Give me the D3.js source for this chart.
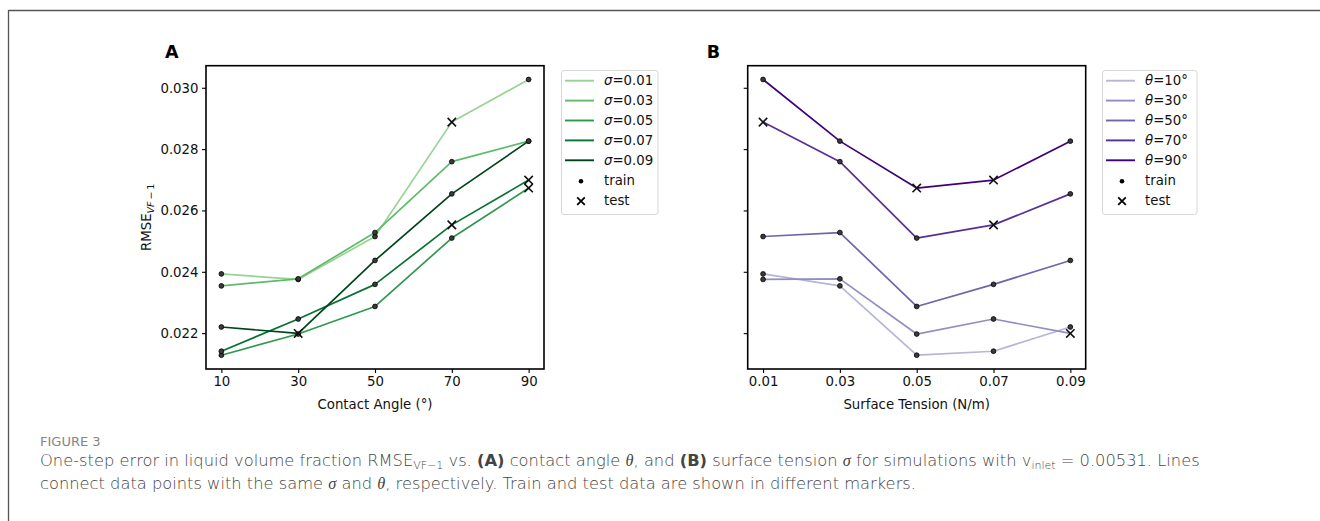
<!DOCTYPE html>
<html><head><meta charset="utf-8">
<script src="https://cdn.jsdelivr.net/npm/d3@7"></script>
<style>
html,body{margin:0;padding:0;background:#fff;}
svg text{font-family:"DejaVu Sans",sans-serif;}
</style></head>
<body>
<svg id="fig" width="1320" height="521"></svg>
<script>
// ---- data ----
const thetas = [10, 30, 50, 70, 90];
const sigmas = [0.01, 0.03, 0.05, 0.07, 0.09];
// RMSE values: rows = sigma, cols = theta
const sigma001 = [0.02393, 0.02375, 0.02515, 0.02888, 0.03027];
const sigma003 = [0.02354, 0.02377, 0.02528, 0.02759, 0.02826];
const sigma005 = [0.02128, 0.02197, 0.02287, 0.02510, 0.02673];
const sigma007 = [0.02141, 0.02246, 0.02359, 0.02553, 0.02699];
const sigma009 = [0.02220, 0.02199, 0.02437, 0.02654, 0.02826];
// test flags (1 = test, 0 = train), same layout
const test001 = [0, 0, 0, 1, 0];
const test003 = [0, 0, 0, 0, 0];
const test005 = [0, 0, 0, 0, 1];
const test007 = [0, 0, 0, 1, 1];
const test009 = [0, 1, 0, 0, 0];
const yTicks = [0.022, 0.024, 0.026, 0.028, 0.030];
const sigmaLabels = ["0.01", "0.03", "0.05", "0.07", "0.09"];
const thetaLabels = ["10", "30", "50", "70", "90"];

const M = [sigma001, sigma003, sigma005, sigma007, sigma009];
const T = [test001, test003, test005, test007, test009];

const greens = [0.4, 0.55, 0.7, 0.85, 1.0].map(t => d3.interpolateGreens(t));
const purples = [0.4, 0.55, 0.7, 0.85, 1.0].map(t => d3.interpolatePurples(t));

const FS = 13.3;
const svg = d3.select("#fig");

// figure frame
svg.append("line").attr("x1", 8.5).attr("x2", 1320).attr("y1", 10.5).attr("y2", 10.5).attr("stroke", "#555").attr("stroke-width", 1.3);
svg.append("line").attr("x1", 8.5).attr("x2", 8.5).attr("y1", 10).attr("y2", 521).attr("stroke", "#555").attr("stroke-width", 1.3);

// shared y
const allVals = M.flat();
const ymin = d3.min(allVals), ymax = d3.max(allVals), ypad = (ymax - ymin) * 0.05;
const plotTop = 65.7, plotBottom = 369;
const y = d3.scaleLinear().domain([ymin - ypad, ymax + ypad]).range([plotBottom, plotTop]);

function panel(opts) {
  const {left, right, xvals, xlabels, xlabel, letter, series, tests, colors, legendLabels, legendX, legendPrefix, legendSuffix, showYLabels} = opts;
  const span = xvals[xvals.length - 1] - xvals[0];
  const x = d3.scaleLinear().domain([xvals[0] - span * 0.05, xvals[xvals.length - 1] + span * 0.05]).range([left, right]);
  const g = svg.append("g");

  // lines
  const line = d3.line().x((d, i) => x(xvals[i])).y(d => y(d));
  series.forEach((s, k) => {
    g.append("path").datum(s).attr("d", line).attr("fill", "none")
      .attr("stroke", colors[k]).attr("stroke-width", 1.7).attr("stroke-linejoin", "round");
  });
  // markers
  series.forEach((s, k) => {
    s.forEach((v, i) => {
      const cx = x(xvals[i]), cy = y(v);
      if (tests[k][i]) {
        const r = 4.2;
        g.append("path").attr("d", `M${cx - r},${cy - r}L${cx + r},${cy + r}M${cx - r},${cy + r}L${cx + r},${cy - r}`)
          .attr("stroke", "#111").attr("stroke-width", 1.6).attr("fill", "none");
      } else {
        g.append("circle").attr("cx", cx).attr("cy", cy).attr("r", 2.4)
          .attr("fill", "#3a3a3a").attr("stroke", "#000").attr("stroke-width", 0.8);
      }
    });
  });

  // axes
  const xAxis = d3.axisBottom(x).tickValues(xvals).tickFormat((d, i) => xlabels[i]).tickSize(4).tickPadding(3.5);
  const gx = g.append("g").attr("transform", `translate(0,${plotBottom})`).call(xAxis);
  gx.select(".domain").remove();
  gx.selectAll("line").attr("stroke", "#000").attr("stroke-width", 1.1);
  gx.selectAll("text").attr("font-size", FS).attr("fill", "#111").attr("font-family", "DejaVu Sans");

  const yAxis = d3.axisLeft(y).tickValues(yTicks).tickFormat(showYLabels ? d3.format(".3f") : () => "").tickSize(4).tickPadding(3.5);
  const gy = g.append("g").attr("transform", `translate(${left},0)`).call(yAxis);
  gy.select(".domain").remove();
  gy.selectAll("line").attr("stroke", "#000").attr("stroke-width", 1.1);
  gy.selectAll("text").attr("font-size", FS).attr("fill", "#111").attr("font-family", "DejaVu Sans");

  g.append("rect").attr("x", left).attr("y", plotTop).attr("width", right - left).attr("height", plotBottom - plotTop)
    .attr("fill", "none").attr("stroke", "#000").attr("stroke-width", 1.6);

  g.append("text").attr("x", (left + right) / 2).attr("y", 408.5).attr("text-anchor", "middle")
    .attr("font-size", FS).attr("fill", "#111").text(xlabel);

  g.append("text").attr("x", left - 41).attr("y", 58).attr("font-size", 17.5).attr("font-weight", "bold").attr("fill", "#000").text(letter);

  // legend
  const lx = legendX, ly = 70, lw = opts.legendW, lh = 144;
  const lg = g.append("g");
  lg.append("rect").attr("x", lx + 0.5).attr("y", ly + 0.5).attr("width", lw).attr("height", lh).attr("rx", 2.5)
    .attr("fill", "#fff").attr("stroke", "#d6d6d6").attr("stroke-width", 1);
  legendLabels.forEach((lab, k) => {
    const ry = 80.7 + 19.9 * k;
    lg.append("line").attr("x1", lx + 4).attr("x2", lx + 33).attr("y1", ry).attr("y2", ry)
      .attr("stroke", colors[k]).attr("stroke-width", 1.9);
    const t = lg.append("text").attr("x", lx + 43).attr("y", ry + 4.7).attr("font-size", FS).attr("fill", "#111");
    t.append("tspan").attr("font-style", "italic").attr("font-family", "DejaVu Sans").text(legendPrefix);
    t.append("tspan").text("=" + lab + legendSuffix);
  });
  const mx = lx + 20;
  const ty = 80.7 + 19.9 * 5, ey = 80.7 + 19.9 * 6;
  lg.append("circle").attr("cx", mx).attr("cy", ty + 1).attr("r", 2.3).attr("fill", "#000");
  lg.append("text").attr("x", lx + 43).attr("y", ty + 4.7).attr("font-size", FS).attr("fill", "#111").text("train");
  const r = 3.8;
  lg.append("path").attr("d", `M${mx - r},${ey + 1 - r}L${mx + r},${ey + 1 + r}M${mx - r},${ey + 1 + r}L${mx + r},${ey + 1 - r}`)
    .attr("stroke", "#000").attr("stroke-width", 1.8);
  lg.append("text").attr("x", lx + 43).attr("y", ey + 4.7).attr("font-size", FS).attr("fill", "#111").text("test");
}

// Panel A: lines per sigma over theta
panel({
  left: 206, right: 544, xvals: thetas, xlabels: thetaLabels, xlabel: "Contact Angle (°)", letter: "A",
  series: M, tests: T, colors: greens, legendLabels: sigmaLabels, legendPrefix: "σ", legendSuffix: "",
  legendX: 561, legendW: 96.5, showYLabels: true
});

// Panel B: lines per theta over sigma (transpose)
const MB = thetas.map((_, j) => M.map(row => row[j]));
const TB = thetas.map((_, j) => T.map(row => row[j]));
panel({
  left: 747.7, right: 1085.7, xvals: sigmas, xlabels: sigmaLabels, xlabel: "Surface Tension (N/m)", letter: "B",
  series: MB, tests: TB, colors: purples, legendLabels: thetaLabels, legendPrefix: "θ", legendSuffix: "°",
  legendX: 1102, legendW: 94.5, showYLabels: false
});

// y label
const yl = svg.append("text").attr("transform", `translate(151,${(plotTop + plotBottom) / 2}) rotate(-90)`)
  .attr("text-anchor", "middle").attr("font-size", FS).attr("fill", "#111");
yl.append("tspan").text("RMSE");
yl.append("tspan").attr("font-size", 9.5).attr("dy", 3).attr("font-style", "italic").text("VF");
yl.append("tspan").attr("font-size", 9.5).text("\u2009−\u20091");

// caption
const cap = svg.append("g").attr("font-family", "'Open Sans', sans-serif");
cap.append("text").attr("x", 40).attr("y", 446).attr("font-size", 13).attr("font-weight", 500)
  .attr("fill", "#858585").attr("font-family", "'Open Sans', sans-serif").text("FIGURE 3");
const c1 = cap.append("text").attr("x", 40).attr("y", 466).attr("font-size", 16.3).attr("fill", "#444")
  .attr("font-family", "'Open Sans', sans-serif").attr("font-weight", 300);
c1.append("tspan").text("One-step error in liquid volume fraction RMSE");
c1.append("tspan").attr("font-size", 11).attr("dy", 3).text("VF−1");
c1.append("tspan").attr("dy", -3).text(" vs. ");
c1.append("tspan").attr("font-weight", 700).attr("fill", "#444").text("(A)");
c1.append("tspan").text(" contact angle ");
c1.append("tspan").attr("font-family", "'Liberation Serif', serif").attr("font-style", "italic").text("θ");
c1.append("tspan").text(", and ");
c1.append("tspan").attr("font-weight", 700).attr("fill", "#444").text("(B)");
c1.append("tspan").text(" surface tension ");
c1.append("tspan").attr("font-family", "'Liberation Serif', serif").attr("font-style", "italic").text("σ");
c1.append("tspan").text(" for simulations with v");
c1.append("tspan").attr("font-size", 11).attr("dy", 3).text("inlet");
c1.append("tspan").attr("dy", -3).text(" = 0.00531. Lines");
const c2 = cap.append("text").attr("x", 40).attr("y", 489).attr("font-size", 16.3).attr("fill", "#444")
  .attr("font-family", "'Open Sans', sans-serif").attr("font-weight", 300);
c2.append("tspan").text("connect data points with the same ");
c2.append("tspan").attr("font-family", "'Liberation Serif', serif").attr("font-style", "italic").text("σ");
c2.append("tspan").text(" and ");
c2.append("tspan").attr("font-family", "'Liberation Serif', serif").attr("font-style", "italic").text("θ");
c2.append("tspan").text(", respectively. Train and test data are shown in different markers.");
</script>
</body></html>
